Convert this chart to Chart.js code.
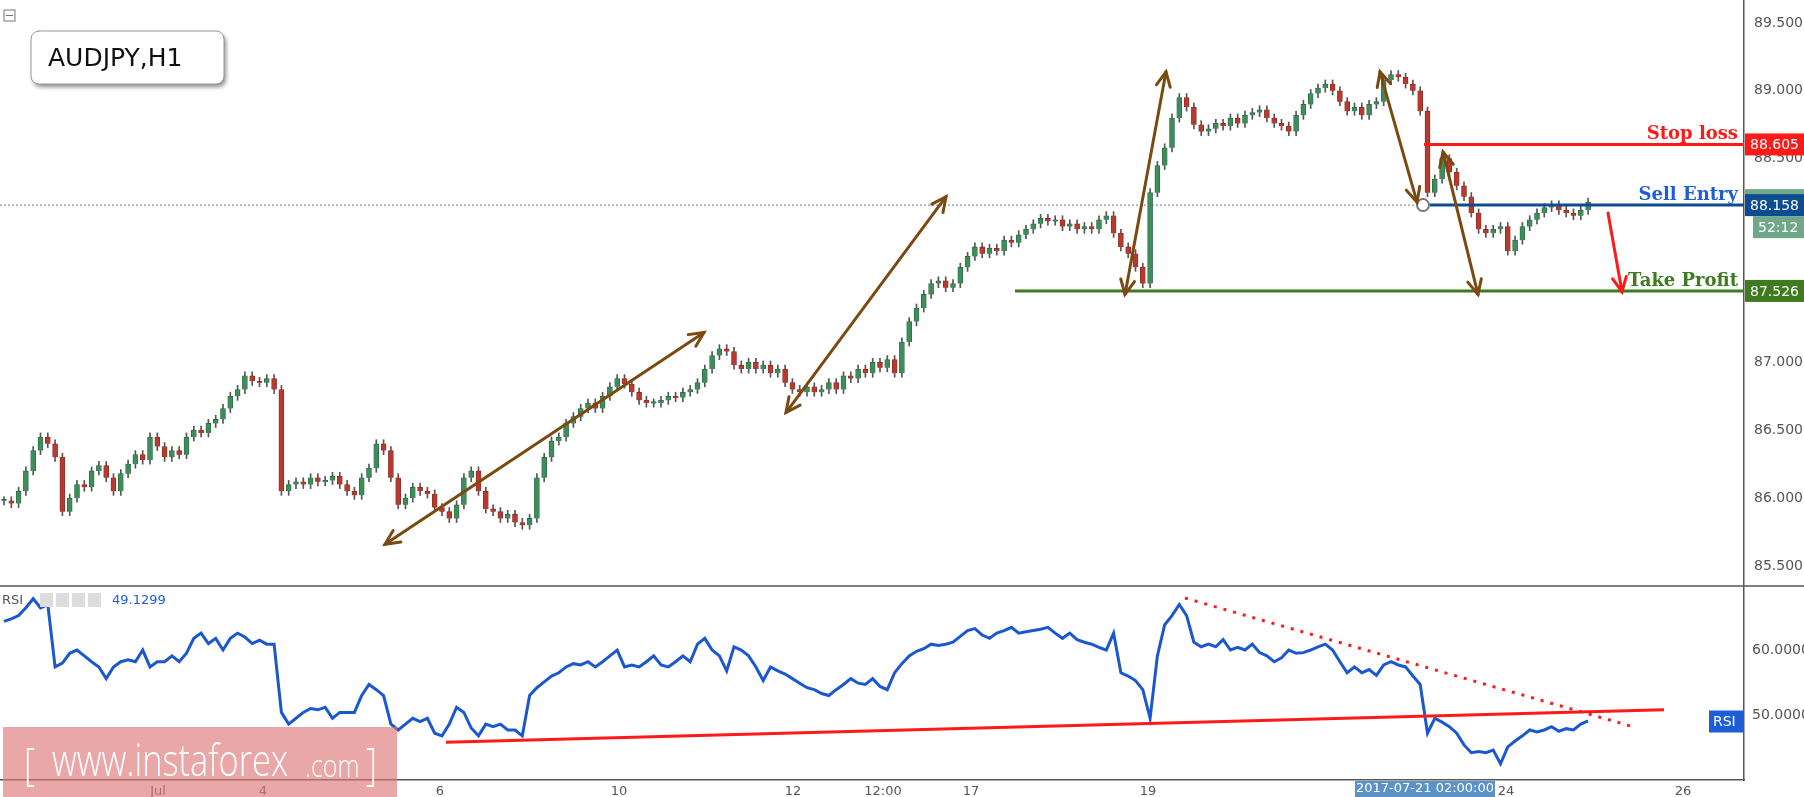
<!DOCTYPE html>
<html>
<head>
<meta charset="utf-8">
<script src="https://cdn.jsdelivr.net/npm/chart.js@4"></script>
<style>
  body { margin: 0; background: #fff; overflow: hidden; }
  #wrap { position: relative; width: 1804px; height: 797px; }
  canvas { position: absolute; left: 0; }
  #price { top: 0; }
  #rsi { top: 587px; }
</style>
</head>
<body>
<div id="wrap">
  <canvas id="price" width="1804" height="587"></canvas>
  <canvas id="rsi" width="1804" height="210"></canvas>
</div>
<script>
// 2-hour closes, AUDJPY
const closes = [
  85.98,85.96,86.05,86.20,86.35,86.45,86.40,86.30,85.90,86.00,
  86.10,86.08,86.20,86.24,86.15,86.05,86.18,86.25,86.32,86.28,
  86.45,86.38,86.30,86.35,86.32,86.45,86.50,86.48,86.55,86.58,
  86.66,86.75,86.80,86.90,86.86,86.85,86.88,86.80,86.05,86.10,
  86.12,86.10,86.15,86.12,86.13,86.16,86.10,86.05,86.02,86.15,
  86.22,86.40,86.35,86.15,85.95,86.00,86.08,86.05,86.03,85.93,
  85.90,85.85,85.95,86.15,86.20,86.05,85.92,85.90,85.85,85.88,
  85.82,85.80,85.85,86.15,86.30,86.42,86.45,86.55,86.60,86.66,
  86.70,86.66,86.75,86.82,86.88,86.84,86.78,86.72,86.70,86.70,
  86.72,86.75,86.74,86.78,86.80,86.85,86.95,87.05,87.10,87.08,
  86.98,86.95,87.00,86.95,86.98,86.92,86.95,86.85,86.80,86.78,
  86.82,86.78,86.80,86.85,86.80,86.90,86.88,86.95,86.92,87.00,
  86.96,87.02,86.92,87.15,87.30,87.40,87.50,87.58,87.60,87.55,
  87.58,87.70,87.78,87.85,87.80,87.84,87.82,87.90,87.88,87.94,
  87.98,88.02,88.06,88.04,88.05,88.00,88.02,87.98,88.00,87.98,
  88.05,88.08,87.95,87.85,87.80,87.70,87.58,88.25,88.45,88.58,
  88.80,88.95,88.88,88.75,88.70,88.72,88.76,88.74,88.80,88.76,
  88.82,88.84,88.86,88.80,88.76,88.74,88.70,88.82,88.90,88.98,
  89.02,89.05,89.00,88.92,88.85,88.88,88.82,88.90,88.92,89.08,
  89.12,89.10,89.05,89.00,88.85,88.25,88.35,88.50,88.40,88.30,
  88.22,88.10,87.98,87.95,87.98,88.00,87.82,87.90,88.00,88.05,
  88.10,88.14,88.16,88.12,88.10,88.08,88.12,88.18
];
const rsiValues = [
  64.4,64.8,65.3,66.5,67.9,66.5,67.0,57.4,58.0,59.5,
  60.0,59.1,58.2,57.4,55.6,57.4,58.2,58.5,58.2,60.0,
  57.4,58.2,58.2,59.1,58.2,59.5,61.8,62.6,61.0,61.8,
  60.0,61.8,62.6,62.0,61.0,61.5,60.9,60.9,50.4,48.6,
  49.5,50.4,51.0,50.8,51.2,49.5,50.4,50.4,50.4,53.0,
  54.7,53.9,53.0,48.6,47.7,48.6,49.5,49.0,49.5,47.2,
  46.8,48.6,51.2,50.4,48.0,46.8,48.6,48.2,48.6,47.7,
  47.7,46.8,53.0,54.2,55.1,56.0,56.5,57.4,57.9,57.7,
  58.2,57.4,58.2,59.1,60.0,57.4,57.7,57.4,58.2,59.1,
  57.7,57.4,58.2,59.1,58.2,60.9,61.8,60.0,59.1,56.8,
  60.5,60.0,59.1,57.4,55.3,57.4,56.8,56.3,55.6,54.9,
  54.2,53.9,53.3,53.0,53.9,54.7,55.6,54.9,54.7,55.6,
  54.4,53.9,56.5,57.9,59.1,59.8,60.2,60.9,60.7,60.9,
  61.2,62.1,63.0,63.3,62.3,61.8,62.6,63.0,63.5,62.6,
  62.8,63.0,63.2,63.5,62.6,61.8,62.6,61.6,61.2,60.9,
  60.4,60.0,62.6,56.5,56.0,55.3,53.9,49.5,59.1,63.9,
  65.3,67.0,65.3,61.2,60.5,60.9,60.5,61.6,60.0,60.4,
  60.0,60.9,59.6,59.1,58.2,58.8,60.0,59.5,59.6,60.0,
  60.5,60.9,60.0,58.2,56.5,57.4,56.5,57.0,56.1,57.7,
  58.2,57.7,57.4,56.0,54.7,47.2,49.5,48.9,48.2,47.2,
  45.4,44.2,44.4,44.2,44.6,42.5,45.1,46.0,46.8,47.7,
  47.4,47.7,48.2,47.5,47.9,47.7,48.6,49.1
];
const priceTicks = [85.5, 86.0, 86.5, 87.0, 87.5, 88.0, 88.5, 89.0, 89.5];
const rsiTicks = [50, 60];
const dateTickPos = [158, 263, 440, 619, 793, 883, 971, 1148, 1506, 1683];
const dateTickLabels = ['Jul', '4', '6', '10', '12', '12:00', '17', '19', '24', '26'];
const stopLoss = 88.605, sellEntry = 88.158, takeProfit = 87.526;

const X0 = 4, STEP = 7.3, PLOT_W = 1744;
const barX = i => X0 + i * STEP;

const bodies = [], wicks = [], colors = [];
closes.forEach((c, i) => {
  const o = i === 0 ? c : closes[i - 1];
  bodies.push({ x: barX(i), y: [o, c === o ? c + 0.01 : c] });
  wicks.push({ x: barX(i), y: [Math.min(o, c) - 0.03, Math.max(o, c) + 0.03] });
  colors.push(c >= o ? '#3f8d5c' : '#b73a2e');
});

function arrow(ctx, x1, y1, x2, y2, both, color, w) {
  ctx.strokeStyle = color; ctx.lineWidth = w; ctx.lineCap = 'round';
  ctx.beginPath(); ctx.moveTo(x1, y1); ctx.lineTo(x2, y2); ctx.stroke();
  const head = (ax, ay, bx, by) => {
    const a = Math.atan2(ay - by, ax - bx), L = 16;
    ctx.beginPath();
    ctx.moveTo(ax - L * Math.cos(a - 0.45), ay - L * Math.sin(a - 0.45));
    ctx.lineTo(ax, ay);
    ctx.lineTo(ax - L * Math.cos(a + 0.45), ay - L * Math.sin(a + 0.45));
    ctx.stroke();
  };
  head(x2, y2, x1, y1);
  if (both) head(x1, y1, x2, y2);
}
function tag(ctx, text, x, yc, bg, fg, w) {
  ctx.fillStyle = bg; ctx.fillRect(x, yc - 11, w, 22);
  ctx.fillStyle = fg; ctx.font = '14px "DejaVu Sans"';
  ctx.textAlign = 'left'; ctx.textBaseline = 'middle';
  ctx.fillText(text, x + 5, yc + 1);
}
const noPad = s => { s.paddingTop = 0; s.paddingBottom = 0; s.paddingLeft = 0; s.paddingRight = 0; };

// brown arrows: [x1, price1, x2, price2]
const brownArrows = [
  [385, 85.66, 704, 87.22, true],
  [786, 86.63, 946, 88.22, true],
  [1125, 87.50, 1166, 89.14, true],
  [1380, 89.14, 1417, 88.18, true],
  [1443, 88.55, 1478, 87.50, true]
];

const overlay = {
  id: 'overlay',
  afterDatasetsDraw(chart) {
    const { ctx, scales: { x, y } } = chart;
    ctx.save();
    ctx.setLineDash([2, 2]); ctx.strokeStyle = '#777'; ctx.lineWidth = 1;
    ctx.beginPath(); ctx.moveTo(0, y.getPixelForValue(sellEntry)); ctx.lineTo(PLOT_W, y.getPixelForValue(sellEntry)); ctx.stroke();
    ctx.setLineDash([]);
    const hl = (v, x1, color) => {
      ctx.strokeStyle = color; ctx.lineWidth = 3;
      ctx.beginPath(); ctx.moveTo(x.getPixelForValue(x1), y.getPixelForValue(v)); ctx.lineTo(PLOT_W, y.getPixelForValue(v)); ctx.stroke();
    };
    hl(stopLoss, 1424, '#ff1a1a');
    hl(sellEntry, 1430, '#0e4c92');
    hl(takeProfit, 1015, '#3e7a1e');
    ctx.font = 'bold 18px "DejaVu Serif"'; ctx.textAlign = 'right'; ctx.textBaseline = 'bottom';
    ctx.fillStyle = '#ff1a1a'; ctx.fillText('Stop loss', 1738, y.getPixelForValue(stopLoss) - 1);
    ctx.fillStyle = '#1d5ed8'; ctx.fillText('Sell Entry', 1738, y.getPixelForValue(sellEntry) - 1);
    ctx.fillStyle = '#3e7a1e'; ctx.fillText('Take Profit', 1738, y.getPixelForValue(takeProfit) - 1);
    ctx.strokeStyle = '#777'; ctx.fillStyle = '#fff'; ctx.lineWidth = 2;
    ctx.beginPath(); ctx.arc(x.getPixelForValue(1423), y.getPixelForValue(sellEntry), 6, 0, Math.PI * 2); ctx.fill(); ctx.stroke();
    brownArrows.forEach(a => arrow(ctx, x.getPixelForValue(a[0]), y.getPixelForValue(a[1]), x.getPixelForValue(a[2]), y.getPixelForValue(a[3]), a[4], '#7b4a12', 3));
    arrow(ctx, x.getPixelForValue(1608), y.getPixelForValue(88.10), x.getPixelForValue(1622), y.getPixelForValue(87.52), false, '#ff1a1a', 3);
    tag(ctx, '88.605', 1745, y.getPixelForValue(stopLoss), '#ff1a1a', '#fff', 59);
    ctx.fillStyle = '#6fa98a'; ctx.fillRect(1745, y.getPixelForValue(sellEntry) - 16, 59, 8);
    tag(ctx, '88.158', 1745, y.getPixelForValue(sellEntry), '#0e4c92', '#fff', 59);
    tag(ctx, '52:12', 1753, y.getPixelForValue(sellEntry) + 22, '#6fa98a', '#fff', 51);
    tag(ctx, '87.526', 1745, y.getPixelForValue(takeProfit), '#3e7a1e', '#fff', 59);
    ctx.shadowColor = 'rgba(0,0,0,0.45)'; ctx.shadowBlur = 4; ctx.shadowOffsetX = 2; ctx.shadowOffsetY = 3;
    ctx.fillStyle = '#fff'; ctx.strokeStyle = '#999'; ctx.lineWidth = 1;
    ctx.beginPath(); ctx.roundRect(31, 31, 193, 53, 8); ctx.fill();
    ctx.shadowColor = 'transparent'; ctx.stroke();
    ctx.fillStyle = '#111'; ctx.font = '25px "DejaVu Sans"'; ctx.textAlign = 'left'; ctx.textBaseline = 'middle';
    ctx.fillText('AUDJPY,H1', 48, 59);
    ctx.strokeStyle = '#777'; ctx.strokeRect(4, 10, 11, 11);
    ctx.beginPath(); ctx.moveTo(6, 15.5); ctx.lineTo(13, 15.5); ctx.stroke();
    ctx.strokeStyle = '#555'; ctx.lineWidth = 1.5;
    ctx.beginPath(); ctx.moveTo(0, 586); ctx.lineTo(1804, 586); ctx.stroke();
    ctx.restore();
  }
};

new Chart(document.getElementById('price'), {
  type: 'bar',
  data: {
    datasets: [
      { data: wicks, backgroundColor: '#555', barThickness: 1, grouped: false, order: 2 },
      { data: bodies, backgroundColor: colors, borderColor: colors.map(c => c === '#3f8d5c' ? '#2a6a42' : '#8a2a22'), borderWidth: 0.8, barThickness: 5, grouped: false, order: 1 }
    ]
  },
  options: {
    responsive: false, devicePixelRatio: 1, animation: false,
    layout: { padding: 0 },
    plugins: { legend: { display: false }, tooltip: { enabled: false } },
    scales: {
      x: { type: 'linear', min: 0, max: PLOT_W, offset: false, display: false },
      y: {
        position: 'right', min: 85.345, max: 89.669,
        afterFit: s => { s.width = 60; noPad(s); },
        afterBuildTicks: s => { s.ticks = priceTicks.map(v => ({ value: v })); },
        grid: { display: false, drawTicks: true, tickLength: 6 },
        border: { display: true, color: '#555', width: 1.5 },
        ticks: { color: '#555', font: { family: 'DejaVu Sans', size: 14 }, padding: 4, callback: v => v.toFixed(3) }
      }
    }
  },
  plugins: [overlay]
});

const rsiOverlay = {
  id: 'rsiOverlay',
  afterDatasetsDraw(chart) {
    const { ctx, scales: { x, y } } = chart;
    ctx.save();
    ctx.strokeStyle = '#ff1a1a'; ctx.lineWidth = 3;
    ctx.beginPath(); ctx.moveTo(x.getPixelForValue(446), y.getPixelForValue(45.8)); ctx.lineTo(x.getPixelForValue(1664), y.getPixelForValue(50.8)); ctx.stroke();
    ctx.setLineDash([3, 7]);
    ctx.beginPath(); ctx.moveTo(x.getPixelForValue(1185), y.getPixelForValue(68)); ctx.lineTo(x.getPixelForValue(1633), y.getPixelForValue(48.2)); ctx.stroke();
    ctx.setLineDash([]);
    ctx.font = '13px "DejaVu Sans"'; ctx.textBaseline = 'middle'; ctx.textAlign = 'left';
    ctx.fillStyle = '#555'; ctx.fillText('RSI', 2, 14);
    ctx.fillStyle = '#ddd';
    [40, 56, 72, 88].forEach(px => ctx.fillRect(px, 6, 13, 14));
    ctx.fillStyle = '#1d5ed8'; ctx.fillText('49.1299', 112, 14);
    ctx.fillStyle = '#1d5ed8'; ctx.fillRect(1709, y.getPixelForValue(49) - 11, 35, 22);
    ctx.fillStyle = '#fff'; ctx.font = '14px "DejaVu Sans"'; ctx.fillText('RSI', 1713, y.getPixelForValue(49) + 1);
    ctx.fillStyle = '#5b93c9'; ctx.fillRect(1355, 194, 140, 16);
    ctx.fillStyle = '#fff'; ctx.font = '13px "DejaVu Sans"'; ctx.textAlign = 'center';
    ctx.fillText('2017-07-21 02:00:00', 1425, 202);
    // watermark
    ctx.fillStyle = 'rgba(222,120,120,0.65)'; ctx.fillRect(3, 140, 394, 70);
    ctx.fillStyle = '#fff'; ctx.textAlign = 'left';
    ctx.save(); ctx.scale(0.78, 1);
    ctx.font = '300 44px "Open Sans"';
    ctx.fillText('[', 24 / 0.78, 180);
    ctx.fillText('www.instaforex', 52 / 0.78, 176);
    ctx.font = '300 32px "Open Sans"'; ctx.fillText('.com', 305 / 0.78, 181);
    ctx.font = '300 44px "Open Sans"'; ctx.fillText(']', 366 / 0.78, 180);
    ctx.restore();
    ctx.restore();
  }
};

new Chart(document.getElementById('rsi'), {
  type: 'line',
  data: {
    datasets: [{
      data: rsiValues.map((v, i) => ({ x: barX(i), y: v })),
      borderColor: '#1b58d0', borderWidth: 3, pointRadius: 0, tension: 0
    }]
  },
  options: {
    responsive: false, devicePixelRatio: 1, animation: false,
    layout: { padding: 0 },
    plugins: { legend: { display: false }, tooltip: { enabled: false } },
    scales: {
      x: {
        type: 'linear', min: 0, max: PLOT_W,
        afterFit: s => { s.height = 17; noPad(s); },
        afterBuildTicks: s => { s.ticks = dateTickPos.map(v => ({ value: v })); },
        grid: { display: false, drawTicks: true, tickLength: 4 },
        border: { display: true, color: '#555', width: 1.5 },
        ticks: { color: '#555', font: { family: 'DejaVu Sans', size: 13 }, padding: 0, maxRotation: 0, autoSkip: false,
          callback: v => dateTickLabels[dateTickPos.indexOf(v)] }
      },
      y: {
        position: 'right', min: 40, max: 69.7,
        afterFit: s => { s.width = 60; noPad(s); },
        afterBuildTicks: s => { s.ticks = rsiTicks.map(v => ({ value: v })); },
        grid: { display: false, drawTicks: true, tickLength: 6 },
        border: { display: true, color: '#555', width: 1.5 },
        ticks: { color: '#555', font: { family: 'DejaVu Sans', size: 14 }, padding: 2, callback: v => v.toFixed(4) }
      }
    }
  },
  plugins: [rsiOverlay]
});
</script>
</body>
</html>
